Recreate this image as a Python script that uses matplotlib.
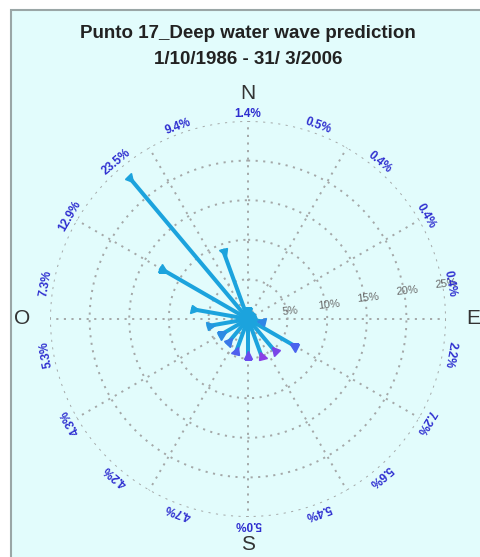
import numpy as np
import matplotlib
matplotlib.use("Agg")
import matplotlib.pyplot as plt
from matplotlib.markers import MarkerStyle
from matplotlib.patches import Rectangle
from matplotlib.transforms import Affine2D

plt.rcParams["font.family"] = ["Liberation Sans", "DejaVu Sans"]

# data
directions = np.arange(0, 360, 20)  # degrees, clockwise from north
freq = [1.4, 0.5, 0.4, 0.4, 0.4, 2.2, 7.2, 5.6, 5.4, 5.0,
        4.7, 4.2, 4.3, 5.3, 7.3, 12.9, 23.5, 9.4]
tip_colors = ["#1ca3dd", "#1ca3dd", "#1ca3dd", "#1ca3dd", "#1ca3dd",
              "#2f86e6", "#4a63ee", "#7a45e8", "#8a3ee6", "#6a4cec",
              "#4f5fee", "#3a78e8", "#2d8ae3", "#2596e0", "#1ca3dd",
              "#1ca3dd", "#1ca3dd", "#1ca3dd"]
rings = [5, 10, 15, 20, 25]
cardinals = {"N": 0, "E": 90, "S": 180, "O": 270}

line_color = "#1ca3dd"
bg = "#e2fcfc"

fig = plt.figure(figsize=(4.8, 5.57), dpi=100)
fig.patch.set_facecolor("white")
fig.patches.append(Rectangle((11 / 480, -0.05), 1.2, 1.05 - 10 / 557,
                             transform=fig.transFigure, facecolor=bg,
                             edgecolor="#9aa6a6", linewidth=1.5, zorder=-5))

fig.text(0.517, 1 - 34 / 557, "Punto 17_Deep water wave prediction",
         ha="center", va="center", fontsize=13.5, fontweight="bold", color="#222222")
fig.text(0.517, 1 - 59 / 557, "1/10/1986 - 31/ 3/2006",
         ha="center", va="center", fontsize=13.5, fontweight="bold", color="#222222")

ax = fig.add_axes([0.1042, 0.0718, 0.825, 0.711], projection="polar")
ax.set_theta_zero_location("N")
ax.set_theta_direction(-1)
ax.set_ylim(0, 25)
ax.grid(False)
ax.set_xticks([])
ax.set_yticks([])
ax.spines["polar"].set_visible(False)
ax.patch.set_alpha(0)

# dotted grid
grid_kw = dict(color="#a4a8a8", lw=1.4, linestyle=(0, (1.1, 2.8)), zorder=1)
circ = np.linspace(0, 2 * np.pi, 400)
for r in rings:
    ax.plot(circ, np.full_like(circ, r), **grid_kw)
for a in range(0, 360, 30):
    ax.plot([np.deg2rad(a)] * 2, [0, rings[-1]], **grid_kw)

for r in rings:
    ax.text(np.deg2rad(80), r + 0.4, f"{r}%", color="#6a6a6a", fontsize=8,
            ha="center", va="center", rotation=6)

# arrows: line from centre, triangle head at the outer end pointing inward
for d, f, c in zip(directions, freq, tip_colors):
    th = np.deg2rad(d)
    ax.plot([th, th], [0, f], color=line_color, lw=2.9, solid_capstyle="butt", zorder=3)
    m = MarkerStyle("^", transform=Affine2D().translate(0, 0.5).scale(1.0, 0.9)
                    .rotate_deg(180 - d))
    ax.plot([th], [f], marker=m, markersize=6.3, color=c, markeredgecolor=c,
            linestyle="none", zorder=4)
ax.plot([0], [0], marker="o", markersize=12, color=line_color, zorder=4)

# percentage labels round the rim
for d, f in zip(directions, freq):
    ax.text(np.deg2rad(d), 25.9, f"{f:.1f}%", color="#2e2ed0", fontsize=8.5,
            fontweight="bold", ha="center", va="center", rotation=-d,
            rotation_mode="anchor", clip_on=False)

for lab, d in cardinals.items():
    ax.text(np.deg2rad(d), 28.5, lab, color="#333333", fontsize=15,
            ha="center", va="center", clip_on=False)

fig.savefig("out.png", dpi=100, facecolor=fig.get_facecolor())
